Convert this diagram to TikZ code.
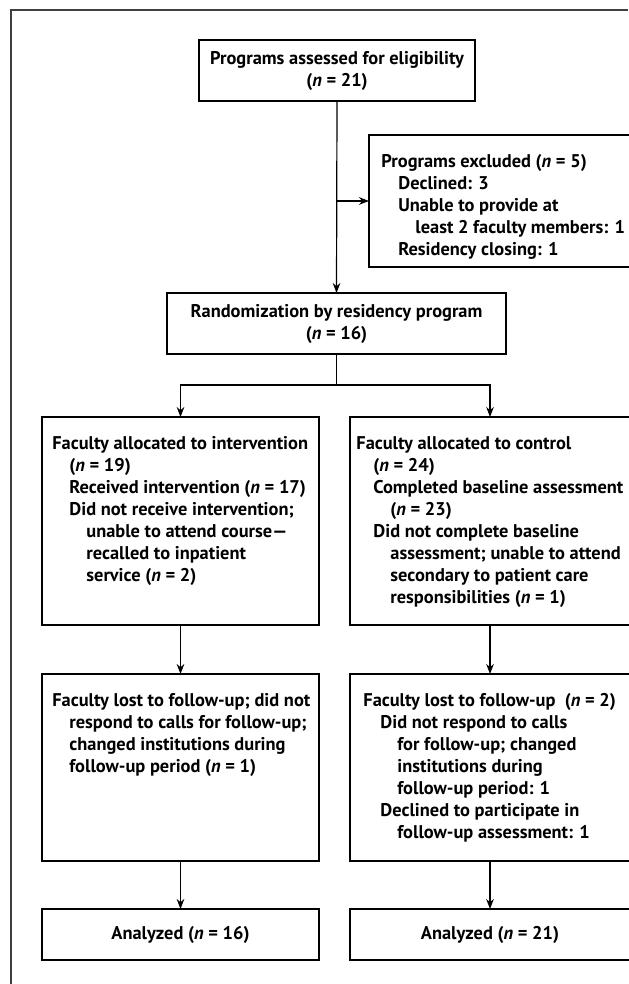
\documentclass[tikz,border=0pt]{standalone}
\usepackage{fontspec}
\setmainfont{PT Sans}
\usetikzlibrary{positioning, arrows.meta}

\newcommand{\inda}{\hspace*{8.5pt}}
\newcommand{\indb}{\hspace*{17pt}}
\newcommand{\nn}{\textit{n}}

\tikzset{
  box/.style={draw, line width=0.6pt, inner sep=0pt, outer sep=0pt},
  boxtext/.style={inner sep=0pt, align=left, anchor=north west},
  arr/.style={-{Stealth[length=5pt, width=3.8pt]}, line width=0.6pt},
}

\begin{document}
\begin{tikzpicture}[x=1pt, y=1pt, font=\fontsize{9.2}{11}\selectfont\bfseries]
          \useasboundingbox (0,0) rectangle (314,-492);
          \draw[line width=0.6pt, black!75] (5.5,-492) -- (5.5,-5) -- (314,-5);

          \node (assess) [box, align=center, minimum width=138pt, minimum height=30.5pt] at (168.5,-35.25)
            {Programs assessed for eligibility\\(\nn{} = 21)};
          \node (excl) [box, anchor=north west, minimum width=140pt, minimum height=66pt] at (184.5,-67.5) {};
          \node (exclT) [boxtext] at ([xshift=6pt, yshift=-9.5pt]excl.north west)
            {Programs excluded (\nn{} = 5)\\
             \inda Declined: 3\\
             \inda Unable to provide at\\
             \indb least 2 faculty members: 1\\
             \inda Residency closing: 1};
          \node (rand) [box, align=center, minimum width=169.5pt, minimum height=30.5pt] at (168.25,-161.75)
            {Randomization by residency program\\(\nn{} = 16)};

          \node (intv) [box, anchor=north west, minimum width=138.5pt, minimum height=104pt] at (21,-208.5) {};
          \node (ctrl) [box, minimum width=140pt, minimum height=104pt, right=15.5pt of intv] {};
          \node (intvT) [boxtext] at ([xshift=5pt, yshift=-9.5pt]intv.north west)
            {Faculty allocated to intervention\\
             \inda(\nn{} = 19)\\
             \inda Received intervention (\nn{} = 17)\\
             \inda Did not receive intervention;\\
             \indb unable to attend course---\\
             \indb recalled to inpatient\\
             \indb service (\nn{} = 2)};
          \node (ctrlT) [boxtext] at ([xshift=3pt, yshift=-9.5pt]ctrl.north west)
            {Faculty allocated to control\\
             \inda(\nn{} = 24)\\
             \inda Completed baseline assessment\\
             \indb(\nn{} = 23)\\
             \inda Did not complete baseline\\
             \indb assessment; unable to attend\\
             \indb secondary to patient care\\
             \indb responsibilities (\nn{} = 1)};

          \node (lostI) [box, minimum width=138.5pt, minimum height=93.5pt, below=24.5pt of intv] {};
          \node (lostC) [box, minimum width=140pt, minimum height=93.5pt, below=24.5pt of ctrl] {};
          \node (lostIT) [boxtext] at ([xshift=5pt, yshift=-9.5pt]lostI.north west)
            {Faculty lost to follow-up; did not\\
             \inda respond to calls for follow-up;\\
             \inda changed institutions during\\
             \inda follow-up period (\nn{} = 1)};
          \node (lostCT) [boxtext] at ([xshift=6.5pt, yshift=-9.5pt]lostC.north west)
            {Faculty lost to follow-up\ \ (\nn{} = 2)\\
             \inda Did not respond to calls\\
             \indb for follow-up; changed\\
             \indb institutions during\\
             \indb follow-up period: 1\\
             \inda Declined to participate in\\
             \indb follow-up assessment: 1};

          \node (anaI) [box, minimum width=138.5pt, minimum height=25.5pt, below=24pt of lostI] {Analyzed (\nn{} = 16)};
          \node (anaC) [box, minimum width=140pt, minimum height=25.5pt, below=24pt of lostC] {Analyzed (\nn{} = 21)};

          \draw[arr] (assess.south) -- (rand.north);
          \draw[arr] (assess.south |- excl.west) -- (excl.west);
          \draw[arr] (rand.south) -- ++(0,-15.5) -| (intv.north);
          \draw[arr] (rand.south) -- ++(0,-15.5) -| (ctrl.north);
          \draw[arr] (intv.south) -- (lostI.north);
          \draw[arr] (ctrl.south) -- (lostC.north);
          \draw[arr] (lostI.south) -- (anaI.north);
          \draw[arr] (lostC.south) -- (anaC.north);
      \end{tikzpicture}
\end{document}
